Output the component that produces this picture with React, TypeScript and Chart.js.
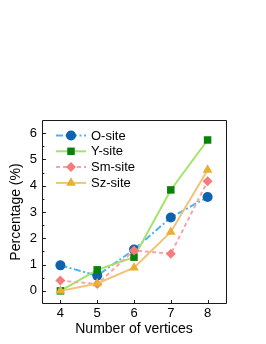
import React, { useEffect, useRef } from 'react';
import { Chart, registerables } from 'chart.js';

Chart.register(...registerables);

const vertices = [4, 5, 6, 7, 8];
const oSite = [0.97, 0.58, 1.57, 2.79, 3.57];
const ySite = [0.0, 0.8, 1.28, 3.84, 5.74];
const smSite = [0.39, 0.26, 1.54, 1.41, 4.17];
const szSite = [0.0, 0.28, 0.88, 2.24, 4.6];
const seriesNames = ['O-site', 'Y-site', 'Sm-site', 'Sz-site'];
const xTicks = [4, 5, 6, 7, 8];
const yTicks = [0, 1, 2, 3, 4, 5, 6];
const yMinorTicks = [0.5, 1.5, 2.5, 3.5, 4.5, 5.5];

const FONT = "'Liberation Sans', Arial, sans-serif";

function drawMarker(ctx: CanvasRenderingContext2D, style: string, x: number, y: number, r: number, color: string) {
  ctx.save();
  ctx.fillStyle = color;
  ctx.beginPath();
  if (style === 'circle') {
    ctx.arc(x, y, r, 0, Math.PI * 2);
  } else if (style === 'rect') {
    const s = r * Math.SQRT1_2;
    ctx.rect(x - s, y - s, 2 * s, 2 * s);
  } else if (style === 'rectRot') {
    ctx.moveTo(x, y - r);
    ctx.lineTo(x + r, y);
    ctx.lineTo(x, y + r);
    ctx.lineTo(x - r, y);
    ctx.closePath();
  } else if (style === 'triangle') {
    for (let i = 0; i < 3; i++) {
      const a = (i * 2 * Math.PI) / 3;
      const px = x + Math.sin(a) * r;
      const py = y - Math.cos(a) * r;
      if (i === 0) ctx.moveTo(px, py); else ctx.lineTo(px, py);
    }
    ctx.closePath();
  }
  ctx.fill();
  ctx.restore();
}

const framePlugin = {
  id: 'frameTicks',
  afterDraw(chart: any) {
    const { ctx, chartArea: a, scales } = chart;
    ctx.save();
    ctx.strokeStyle = '#1a1a1a';
    ctx.lineWidth = 1;
    ctx.beginPath();
    ctx.rect(a.left + 0.5, a.top + 0.5, a.right - a.left, a.bottom - a.top - 1);
    ctx.stroke();
    ctx.beginPath();
    yTicks.forEach((v) => {
      const py = Math.round(scales.y.getPixelForValue(v)) + 0.5;
      ctx.moveTo(a.left, py);
      ctx.lineTo(a.left + 4, py);
    });
    yMinorTicks.forEach((v) => {
      const py = Math.round(scales.y.getPixelForValue(v)) + 0.5;
      ctx.moveTo(a.left, py);
      ctx.lineTo(a.left + 2.5, py);
    });
    xTicks.forEach((v) => {
      const px = Math.round(scales.x.getPixelForValue(v)) + 0.5;
      ctx.moveTo(px, a.bottom);
      ctx.lineTo(px, a.bottom - 4);
    });
    ctx.stroke();

    // legend
    const x0 = 56, x1 = 86, xm = 71, xt = 91;
    chart.data.datasets.forEach((ds: any, i: number) => {
      const y = 135.5 + i * 15.8;
      ctx.save();
      ctx.strokeStyle = ds.borderColor;
      ctx.lineWidth = ds.borderWidth;
      ctx.setLineDash(ds.borderDash || []);
      ctx.beginPath();
      ctx.moveTo(x0, y);
      ctx.lineTo(x1, y);
      ctx.stroke();
      ctx.restore();
      drawMarker(ctx, ds.pointStyle, xm, y, ds.pointRadius, ds.pointBackgroundColor);
      ctx.fillStyle = '#000';
      ctx.font = `13px ${FONT}`;
      ctx.textBaseline = 'middle';
      ctx.textAlign = 'left';
      ctx.fillText(ds.label, xt, y + 0.5);
    });
    ctx.restore();
  },
};

export default function App() {
  const ref = useRef<HTMLCanvasElement>(null);
  useEffect(() => {
    if (!ref.current) return;
    const pts = (ys: number[]) => vertices.map((v, i) => ({ x: v, y: ys[i] }));
    const chart = new Chart(ref.current, {
      type: 'line',
      data: {
        datasets: [
          {
            label: seriesNames[0], data: pts(oSite), borderColor: '#4cb3f5', borderWidth: 2,
            borderDash: [7, 2.5, 2, 2.5], pointStyle: 'circle', pointRadius: 5,
            pointBackgroundColor: '#0f62ad', pointBorderColor: '#0f62ad', pointBorderWidth: 0, order: 4,
          },
          {
            label: seriesNames[1], data: pts(ySite), borderColor: '#a3e468', borderWidth: 2,
            pointStyle: 'rect', pointRadius: 5.3,
            pointBackgroundColor: '#0a820a', pointBorderColor: '#0a820a', pointBorderWidth: 0, order: 3,
          },
          {
            label: seriesNames[2], data: pts(smSite), borderColor: '#f9a5a5', borderWidth: 2,
            borderDash: [4, 3], pointStyle: 'rectRot', pointRadius: 5,
            pointBackgroundColor: '#f77b7b', pointBorderColor: '#f77b7b', pointBorderWidth: 0, order: 2,
          },
          {
            label: seriesNames[3], data: pts(szSite), borderColor: '#f2c373', borderWidth: 2,
            pointStyle: 'triangle', pointRadius: 5.6,
            pointBackgroundColor: '#e8b032', pointBorderColor: '#e8b032', pointBorderWidth: 0, order: 1,
          },
        ],
      },
      options: {
        animation: false,
        responsive: false,
        devicePixelRatio: 1,
        layout: { padding: { top: 120, right: 40, left: 0, bottom: 0 } },
        plugins: { legend: { display: false }, tooltip: { enabled: false } },
        scales: {
          x: {
            type: 'linear', min: 3.5, max: 8.5,
            afterFit: (s: any) => { s.height = 40; },
            afterBuildTicks: (s: any) => { s.ticks = xTicks.map((v) => ({ value: v })); },
            grid: { display: false, drawTicks: false },
            border: { display: false },
            ticks: { color: '#000', font: { family: FONT, size: 13 }, padding: 2, maxRotation: 0 },
            title: { display: true, text: 'Number of vertices', color: '#000', font: { family: FONT, size: 14 }, padding: { top: 0, bottom: 6 } },
          },
          y: {
            type: 'linear', min: -0.5, max: 6.5,
            afterFit: (s: any) => { s.width = 42; },
            afterBuildTicks: (s: any) => { s.ticks = yTicks.map((v) => ({ value: v })); },
            grid: { display: false, drawTicks: false },
            border: { display: false },
            ticks: { color: '#000', font: { family: FONT, size: 13 }, padding: 5 },
            title: { display: true, text: 'Percentage (%)', color: '#000', font: { family: FONT, size: 14 }, padding: { top: 8, bottom: 0 } },
          },
        },
      },
      plugins: [framePlugin],
    } as any);
    return () => chart.destroy();
  }, []);
  return (
    <div style={{ position: 'absolute', left: 0, top: 0, width: 266, height: 344, background: '#fff' }}>
      <canvas ref={ref} width={266} height={344} style={{ display: 'block', width: 266, height: 344 }} />
    </div>
  );
}
